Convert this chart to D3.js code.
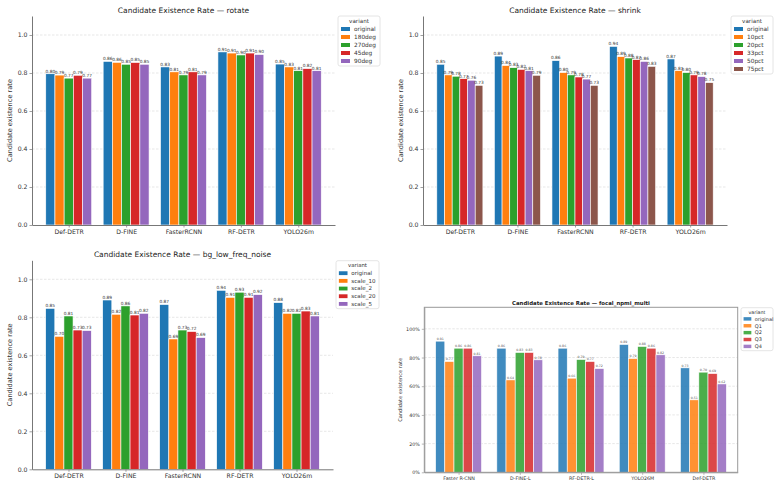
<!DOCTYPE html>
<html>
<head>
<meta charset="utf-8">
<script src="https://cdn.jsdelivr.net/npm/d3@7"></script>
<style>
  body { margin: 0; background: #fff; }
  svg { display: block; font-family: 'DejaVu Sans', sans-serif; }
</style>
</head>
<body>
<svg id="chart" width="779" height="487"></svg>
<script>
'use strict';

var palette = ['#1f77b4', '#ff7f0e', '#2ca02c', '#d62728', '#9467bd', '#8c564b'];

var models = ['Def-DETR', 'D-FINE', 'FasterRCNN', 'RF-DETR', 'YOLO26m'];
var focalModels = ['Faster R-CNN', 'D-FINE-L', 'RF-DETR-L', 'YOLO26M', 'Def-DETR'];

// one row per model, one column per variant
var rotateVariants = ['original', '180deg', '270deg', '45deg', '90deg'];
var rotateValues = [
  [0.796, 0.789, 0.773, 0.788, 0.773],
  [0.861, 0.856, 0.846, 0.855, 0.846],
  [0.832, 0.806, 0.790, 0.806, 0.790],
  [0.911, 0.905, 0.895, 0.905, 0.897],
  [0.847, 0.832, 0.812, 0.823, 0.812]
];

var shrinkVariants = ['original', '10pct', '20pct', '33pct', '50pct', '75pct'];
var shrinkValues = [
  [0.846, 0.790, 0.783, 0.770, 0.762, 0.735],
  [0.889, 0.839, 0.828, 0.819, 0.812, 0.788],
  [0.865, 0.802, 0.790, 0.779, 0.768, 0.735],
  [0.940, 0.886, 0.879, 0.870, 0.861, 0.835],
  [0.874, 0.812, 0.802, 0.790, 0.781, 0.749]
];

var noiseVariants = ['original', 'scale_10', 'scale_2', 'scale_20', 'scale_5'];
var noiseValues = [
  [0.847, 0.700, 0.807, 0.733, 0.730],
  [0.891, 0.816, 0.860, 0.812, 0.821],
  [0.867, 0.686, 0.733, 0.725, 0.693],
  [0.942, 0.905, 0.932, 0.905, 0.919],
  [0.877, 0.821, 0.821, 0.833, 0.807]
];

var focalVariants = ['original', 'Q1', 'Q2', 'Q3', 'Q4'];
var focalValues = [
  [0.914, 0.772, 0.865, 0.865, 0.812],
  [0.865, 0.644, 0.835, 0.835, 0.784],
  [0.865, 0.656, 0.786, 0.772, 0.723],
  [0.891, 0.793, 0.877, 0.865, 0.819],
  [0.728, 0.505, 0.698, 0.688, 0.616]
];

var rateTicks = [0, 0.2, 0.4, 0.6, 0.8, 1.0];

var plainStyle = {
  pad: 0.64, groupWidth: 0.8, ymax: 1.1, box: false, bold: false, opacity: 1,
  format: d3.format('.1f'), titleSize: 7.5, labelSize: 6.6, tickSize: 6.2,
  valueSize: 4.3, valueColor: '#333', spine: '#777'
};

var focalStyle = {
  pad: 0.56, groupWidth: 0.75, ymax: 1.15, box: true, bold: true, opacity: 0.85,
  format: d3.format('.0%'), titleSize: 5.4, labelSize: 5.1, tickSize: 4.8,
  valueSize: 3.2, valueColor: '#555', spine: '#999'
};

var panels = [
  Object.assign({}, plainStyle, {
    title: 'Candidate Existence Rate \u2014 rotate',
    categories: models, variants: rotateVariants, values: rotateValues,
    left: 32, right: 335, top: 16, bottom: 225, titleY: 10, ylabelX: 10,
    legend: { x: 338, y: 16, w: 42, s: 1 }
  }),
  Object.assign({}, plainStyle, {
    title: 'Candidate Existence Rate \u2014 shrink',
    categories: models, variants: shrinkVariants, values: shrinkValues,
    left: 423, right: 727, top: 16, bottom: 225, titleY: 10, ylabelX: 401,
    legend: { x: 731, y: 16, w: 42, s: 1 }
  }),
  Object.assign({}, plainStyle, {
    title: 'Candidate Existence Rate \u2014 bg_low_freq_noise',
    categories: models, variants: noiseVariants, values: noiseValues,
    left: 32, right: 333, top: 260.3, bottom: 469.3, titleY: 254.3, ylabelX: 10,
    legend: { x: 336, y: 260.7, w: 43, s: 0.96 }
  }),
  Object.assign({}, focalStyle, {
    title: 'Candidate Existence Rate \u2014 focal_npmi_multi',
    categories: focalModels, variants: focalVariants, values: focalValues,
    left: 424.3, right: 737.7, top: 307.3, bottom: 472.3, titleY: 302.7, ylabelX: 400,
    legend: { x: 741, y: 307.7, w: 32, s: 0.86 }
  })
];

var drawLegend = function(g, p) {
  var L = p.legend;
  var s = L.s;
  var k = p.variants.length;
  var legend = g.append('g').attr('transform', 'translate(' + L.x + ',' + L.y + ')');

  legend.append('rect')
    .attr('width', L.w)
    .attr('height', (13 + (k - 1) * 8 + 5) * s)
    .attr('rx', 2)
    .attr('fill', '#fff')
    .attr('fill-opacity', 0.8)
    .attr('stroke', '#ddd')
    .attr('stroke-width', 0.8);

  legend.append('text')
    .attr('x', L.w / 2)
    .attr('y', 5 * s)
    .attr('dy', '0.35em')
    .attr('text-anchor', 'middle')
    .attr('font-size', 5.6 * s)
    .attr('fill', '#333')
    .text('variant');

  var items = legend.selectAll('g.item')
    .data(p.variants)
    .join('g')
    .classed('item', true)
    .attr('transform', function(d, i) {
      return 'translate(0,' + (13 + i * 8) * s + ')';
    });

  items.append('rect')
    .attr('x', 3 * s)
    .attr('y', -2 * s)
    .attr('width', 9 * s)
    .attr('height', 4 * s)
    .attr('fill', function(d, i) { return palette[i]; })
    .attr('fill-opacity', p.opacity);

  items.append('text')
    .attr('x', 16 * s)
    .attr('dy', '0.35em')
    .attr('font-size', 5.8 * s)
    .attr('fill', '#333')
    .text(function(d) { return d; });
};

var drawPanel = function(svg, p) {
  var g = svg.append('g');
  var n = p.categories.length;
  var k = p.variants.length;

  var x = d3.scaleLinear().domain([-p.pad, n - 1 + p.pad]).range([p.left, p.right]);
  var y = d3.scaleLinear().domain([0, p.ymax]).range([p.bottom, p.top]);
  var barStep = p.groupWidth / k;
  var barPx = x(barStep) - x(0);

  g.append('g')
    .selectAll('line')
    .data(rateTicks.slice(1))
    .join('line')
    .attr('x1', p.left)
    .attr('x2', p.right)
    .attr('y1', function(d) { return y(d); })
    .attr('y2', function(d) { return y(d); })
    .attr('stroke', '#ccc')
    .attr('stroke-width', 0.6)
    .attr('stroke-dasharray', '2.5,1.5')
    .attr('stroke-opacity', 0.8);

  var cells = [];
  p.values.forEach(function(row, i) {
    row.forEach(function(v, j) {
      cells.push({ i: i, j: j, v: v, cx: x(i + (j - (k - 1) / 2) * barStep) });
    });
  });

  g.append('g')
    .selectAll('rect')
    .data(cells)
    .join('rect')
    .attr('x', function(d) { return d.cx - barPx / 2; })
    .attr('y', function(d) { return y(d.v); })
    .attr('width', barPx)
    .attr('height', function(d) { return y(0) - y(d.v); })
    .attr('fill', function(d) { return palette[d.j]; })
    .attr('fill-opacity', p.opacity)
    .attr('stroke', '#fff')
    .attr('stroke-width', 0.6);

  // value labels sit tight above each bar; neighbours overlap as in the source
  g.append('g')
    .selectAll('text')
    .data(cells)
    .join('text')
    .attr('x', function(d) { return d.cx; })
    .attr('y', function(d) { return y(d.v) - 1.2; })
    .attr('text-anchor', 'middle')
    .attr('font-size', p.valueSize)
    .attr('fill', p.valueColor)
    .text(function(d) { return d3.format('.2f')(d.v); });

  var yAxis = g.append('g')
    .attr('transform', 'translate(' + p.left + ',0)')
    .call(d3.axisLeft(y).tickValues(rateTicks).tickFormat(p.format)
      .tickSize(2.5).tickSizeOuter(0).tickPadding(2));

  var xAxis = g.append('g')
    .attr('transform', 'translate(0,' + p.bottom + ')')
    .call(d3.axisBottom(x).tickValues(d3.range(n))
      .tickFormat(function(i) { return p.categories[i]; })
      .tickSize(2.5).tickSizeOuter(0).tickPadding(2));

  [yAxis, xAxis].forEach(function(axis) {
    axis.attr('font-family', null).attr('font-size', p.tickSize);
    axis.select('.domain').attr('stroke', p.spine).attr('stroke-width', 1);
    axis.selectAll('.tick line').attr('stroke', p.spine).attr('stroke-width', 0.7);
    axis.selectAll('.tick text').attr('fill', '#333');
  });

  if (p.box) {
    g.append('rect')
      .attr('x', p.left)
      .attr('y', p.top)
      .attr('width', p.right - p.left)
      .attr('height', p.bottom - p.top)
      .attr('fill', 'none')
      .attr('stroke', p.spine)
      .attr('stroke-width', 1);
  }

  g.append('text')
    .attr('x', (p.left + p.right) / 2)
    .attr('y', p.titleY)
    .attr('dy', '0.35em')
    .attr('text-anchor', 'middle')
    .attr('font-size', p.titleSize)
    .attr('font-weight', p.bold ? 'bold' : 'normal')
    .attr('fill', '#222')
    .text(p.title);

  g.append('text')
    .attr('transform', 'translate(' + p.ylabelX + ',' + (p.top + p.bottom) / 2 + ') rotate(-90)')
    .attr('dy', '0.35em')
    .attr('text-anchor', 'middle')
    .attr('font-size', p.labelSize)
    .attr('fill', '#333')
    .text('Candidate existence rate');

  drawLegend(g, p);
};

var svg = d3.select('#chart');
panels.forEach(function(p) {
  drawPanel(svg, p);
});
</script>
</body>
</html>
